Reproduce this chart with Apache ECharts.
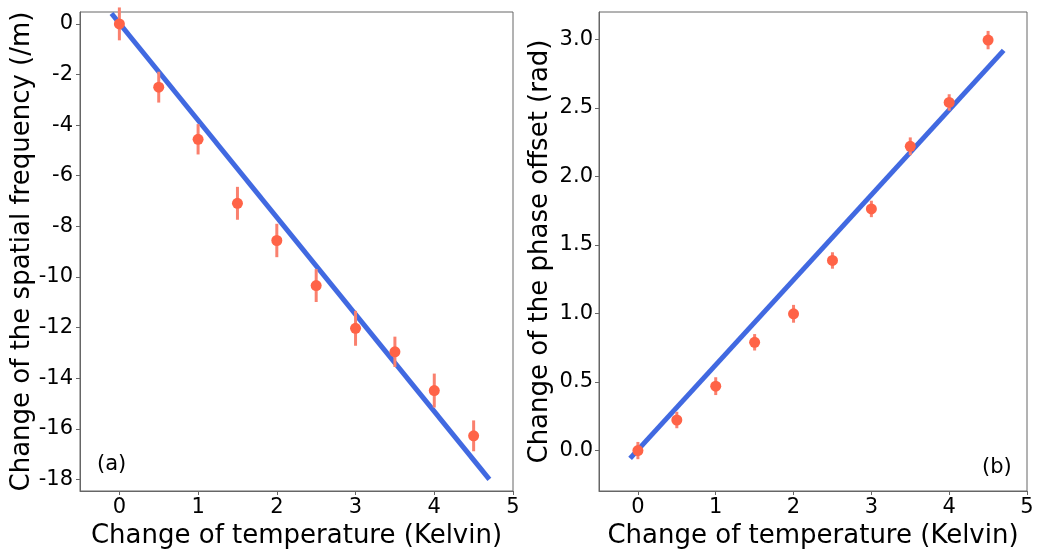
<!DOCTYPE html>
<html>
<head>
<meta charset="utf-8">
<script src="https://cdn.jsdelivr.net/npm/echarts@6.0.0/dist/echarts.min.js"></script>
<style>
html,body{margin:0;padding:0;background:#fff;}
#chart{width:1048px;height:557px;}
</style>
</head>
<body>
<div id="chart"></div>
<script>
// Data
var temperature = [0, 0.5, 1, 1.5, 2, 2.5, 3, 3.5, 4, 4.5];
var spatialFreq = [0, -2.50, -4.56, -7.09, -8.56, -10.34, -12.03, -12.96, -14.49, -16.28];
var spatialFreqErr = [0.65, 0.61, 0.60, 0.65, 0.66, 0.65, 0.69, 0.60, 0.67, 0.61];
var phaseOffset = [0, 0.223, 0.47, 0.79, 0.998, 1.387, 1.763, 2.22, 2.54, 2.995];
var phaseOffsetErr = [0.063, 0.06, 0.065, 0.06, 0.065, 0.06, 0.06, 0.065, 0.06, 0.067];
var fitX = [-0.1, 4.7];
var fitSpatial = [0.41, -18.0];
var fitPhase = [-0.057, 2.92];
var xTicks = [0, 1, 2, 3, 4, 5];
var yTicksA = [0, -2, -4, -6, -8, -10, -12, -14, -16, -18];
var yTicksB = [0, 0.5, 1.0, 1.5, 2.0, 2.5, 3.0];

var FONT = 'DejaVu Sans';
var frame = '#666666';
var pointColor = '#FF6347';
var errColor = '#FA806E';
var lineColor = '#4169E1';

function pairs(xs, ys) { return xs.map(function (x, i) { return [x, ys[i]]; }); }
function errData(xs, ys, es) { return xs.map(function (x, i) { return [x, ys[i] - es[i], ys[i] + es[i]]; }); }

function errRender(params, api) {
  var x = api.value(0);
  var lo = api.coord([x, api.value(1)]);
  var hi = api.coord([x, api.value(2)]);
  return {
    type: 'line',
    shape: { x1: lo[0], y1: lo[1], x2: hi[0], y2: hi[1] },
    style: { stroke: errColor, lineWidth: 3 }
  };
}

function xAxisCfg(idx) {
  return {
    gridIndex: idx, type: 'value', min: -0.5, max: 5,
    name: 'Change of temperature (Kelvin)', nameLocation: 'middle', nameGap: 26,
    nameTextStyle: { fontFamily: FONT, fontSize: 26, color: '#000' },
    axisLine: { show: true, onZero: false, lineStyle: { color: frame, width: 1 } },
    axisTick: { show: true, inside: false, length: 4, customValues: xTicks, lineStyle: { color: frame } },
    axisLabel: { customValues: xTicks, fontFamily: FONT, fontSize: 21, color: '#000', margin: 6 },
    splitLine: { show: false }
  };
}

var option = {
  animation: false,
  backgroundColor: '#fff',
  grid: [
    { left: 80, top: 12, width: 433, height: 479, show: true, borderColor: frame, borderWidth: 1, backgroundColor: 'transparent' },
    { left: 599, top: 12, width: 428, height: 479, show: true, borderColor: frame, borderWidth: 1, backgroundColor: 'transparent' }
  ],
  xAxis: [xAxisCfg(0), xAxisCfg(1)],
  yAxis: [
    {
      gridIndex: 0, type: 'value', min: -18.46, max: 0.47,
      name: 'Change of the spatial frequency (/m)', nameLocation: 'middle', nameGap: 45,
      nameTextStyle: { fontFamily: FONT, fontSize: 26, color: '#000' },
      axisLine: { show: true, onZero: false, lineStyle: { color: frame, width: 1 } },
      axisTick: { show: true, length: 4, customValues: yTicksA, lineStyle: { color: frame } },
      axisLabel: { customValues: yTicksA, fontFamily: FONT, fontSize: 21, color: '#000', margin: 7,
        formatter: function (v) { return String(v); } },
      splitLine: { show: false }
    },
    {
      gridIndex: 1, type: 'value', min: -0.295, max: 3.2,
      name: 'Change of the phase offset (rad)', nameLocation: 'middle', nameGap: 46,
      nameTextStyle: { fontFamily: FONT, fontSize: 26, color: '#000' },
      axisLine: { show: true, onZero: false, lineStyle: { color: frame, width: 1 } },
      axisTick: { show: true, length: 4, customValues: yTicksB, lineStyle: { color: frame } },
      axisLabel: { customValues: yTicksB, fontFamily: FONT, fontSize: 21, color: '#000', margin: 6,
        formatter: function (v) { return v.toFixed(1); } },
      splitLine: { show: false }
    }
  ],
  graphic: [
    { type: 'text', left: 97, top: 454, style: { text: '(a)', fontFamily: FONT, fontSize: 21, fill: '#000' } },
    { type: 'text', left: 982, top: 457, style: { text: '(b)', fontFamily: FONT, fontSize: 21, fill: '#000' } }
  ],
  series: [
    { type: 'line', xAxisIndex: 0, yAxisIndex: 0, data: pairs(fitX, fitSpatial), showSymbol: false, symbol: 'none',
      lineStyle: { color: lineColor, width: 5 }, z: 2 },
    { type: 'custom', xAxisIndex: 0, yAxisIndex: 0, data: errData(temperature, spatialFreq, spatialFreqErr),
      renderItem: errRender, z: 3, encode: { x: 0, y: [1, 2] } },
    { type: 'scatter', xAxisIndex: 0, yAxisIndex: 0, data: pairs(temperature, spatialFreq), symbolSize: 11,
      itemStyle: { color: pointColor, opacity: 1 }, z: 4 },

    { type: 'line', xAxisIndex: 1, yAxisIndex: 1, data: pairs(fitX, fitPhase), showSymbol: false, symbol: 'none',
      lineStyle: { color: lineColor, width: 5 }, z: 2 },
    { type: 'custom', xAxisIndex: 1, yAxisIndex: 1, data: errData(temperature, phaseOffset, phaseOffsetErr),
      renderItem: errRender, z: 3, encode: { x: 0, y: [1, 2] } },
    { type: 'scatter', xAxisIndex: 1, yAxisIndex: 1, data: pairs(temperature, phaseOffset), symbolSize: 11,
      itemStyle: { color: pointColor, opacity: 1 }, z: 4 }
  ]
};

var chart = echarts.init(document.getElementById('chart'), null, { renderer: 'canvas' });
chart.setOption(option);
</script>
</body>
</html>
